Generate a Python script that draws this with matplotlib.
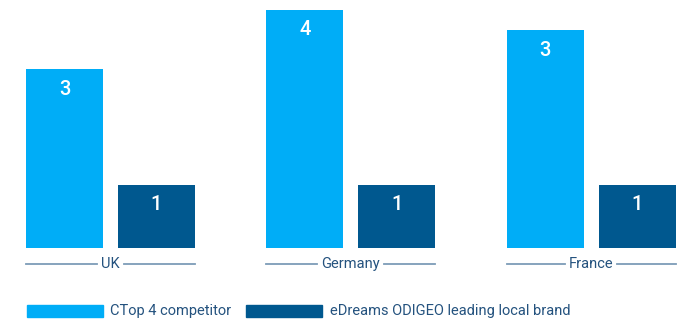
import matplotlib
matplotlib.use("Agg")
import matplotlib.pyplot as plt
from matplotlib.patches import Rectangle
import numpy as np

plt.rcParams['font.family'] = ['Roboto', 'DejaVu Sans']

# Data
categories = ["UK", "Germany", "France"]
series_names = ["CTop 4 competitor", "eDreams ODIGEO leading local brand"]
competitor_labels = ["3", "4", "3"]
edreams_labels = ["1", "1", "1"]
# bar heights as drawn in the picture (relative units, dark bar = 1)
competitor_heights = [2.84, 3.78, 3.46]
edreams_heights = [1.0, 1.0, 1.0]

light = "#00ADF7"
dark = "#00588F"
line_col = "#7D9CB7"
text_col = "#24527E"

W, H = 678, 320
fig = plt.figure(figsize=(W / 100, H / 100), dpi=100)

base_px = 248  # baseline from top
ax = fig.add_axes([0, (H - base_px) / H, 1, base_px / H])
unit_px = 240.3
x0_px = 110.5
ax.set_xlim(-x0_px / unit_px, (W - x0_px) / unit_px)
ax.set_ylim(0, base_px / 63.0)
ax.axis("off")

x = np.arange(len(categories))
bw = 77 / unit_px
off = 46 / unit_px
b1 = ax.bar(x - off, competitor_heights, bw, color=light, label=series_names[0])
b2 = ax.bar(x + off, edreams_heights, bw, color=dark, label=series_names[1])

for bars, labs in ((b1, competitor_labels), (b2, edreams_labels)):
    for r, lab in zip(bars, labs):
        ax.annotate(lab, (r.get_x() + r.get_width() / 2, r.get_height()),
                    xytext=(0, -20 * 72 / 100), textcoords="offset points",
                    ha="center", va="center", color="white", fontsize=14.5,
                    fontweight="medium")

# category labels with lines
label_y_px = 264
texts = []
for i, c in enumerate(categories):
    t = fig.text((x0_px + unit_px * i) / W, 1 - label_y_px / H, c, ha="center",
                 va="center", fontsize=10.5, color=text_col)
    texts.append(t)

fig.canvas.draw()
r = fig.canvas.get_renderer()
for i, t in enumerate(texts):
    bb = t.get_window_extent(r)
    left = x0_px + unit_px * i - off * unit_px - bw * unit_px / 2
    right = x0_px + unit_px * i + off * unit_px + bw * unit_px / 2
    yy = 1 - label_y_px / H
    fig.add_artist(plt.Line2D([left / W, (bb.x0 - 4) / W], [yy, yy],
                              color=line_col, lw=1.3, transform=fig.transFigure))
    fig.add_artist(plt.Line2D([(bb.x1 + 4) / W, right / W], [yy, yy],
                              color=line_col, lw=1.3, transform=fig.transFigure))

# legend
leg_y = 311
items = [(27, light, series_names[0], 110), (246, dark, series_names[1], 330)]
for px, col, name, tx in items:
    fig.add_artist(Rectangle((px / W, 1 - (leg_y + 6) / H), 76 / W, 12 / H,
                             color=col, transform=fig.transFigure))
    fig.text(tx / W, 1 - leg_y / H, name, ha="left", va="center",
             fontsize=10.5, color=text_col)

fig.savefig("out.png", dpi=100)
